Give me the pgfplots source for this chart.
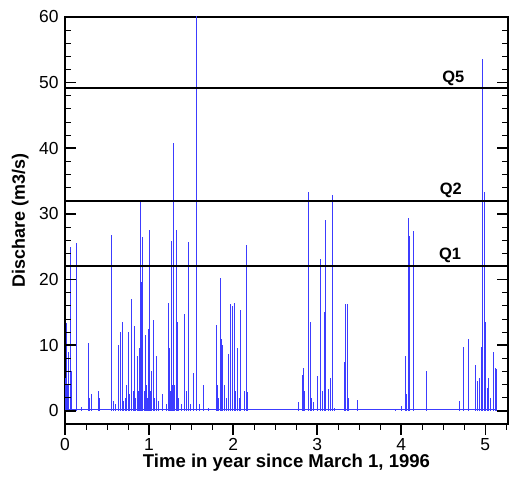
\documentclass[border=0pt]{standalone}
\usepackage{pgfplots}
\pgfplotsset{compat=1.18}
\usepackage{pgfplotstable}
\usepackage{fontspec}
\setmainfont{Liberation Sans}
\definecolor{flow}{RGB}{60,60,255}
\pgfplotstableread{
x y
0.005 5
0.012 13.4
0.020 8
0.030 4
0.045 9
0.060 25
0.075 6
0.140 25.6
0.200 0.6
0.280 10.4
0.295 2
0.310 2.5
0.400 3.1
0.410 2
0.556 26.8
0.570 1.5
0.600 1
0.635 10
0.655 12
0.686 13.5
0.700 1.5
0.720 2
0.735 4
0.754 12
0.770 2.5
0.794 17
0.810 3
0.821 13
0.835 2
0.855 8.3
0.868 3
0.880 9.5
0.890 4
0.901 32
0.912 19.7
0.925 26.5
0.940 3
0.952 11.5
0.965 4
0.978 2
0.990 12.5
1.000 27.5
1.015 3
1.030 6
1.050 13.8
1.065 2
1.090 8.4
1.110 1.5
1.160 2.6
1.200 1
1.230 16.4
1.240 9.5
1.255 3
1.270 25.8
1.282 4
1.294 40.8
1.306 4
1.320 27.5
1.332 13.6
1.350 2
1.380 1
1.417 14.7
1.440 3
1.472 25.7
1.490 1
1.524 5.8
1.558 39.8
1.566 62
1.600 1
1.646 3.9
1.700 0.5
1.806 13.1
1.815 3.9
1.830 2
1.849 20.2
1.862 10.9
1.875 10
1.900 4
1.920 2
1.948 8.6
1.970 16.3
1.990 16
2.012 16.4
2.030 3
2.050 9.5
2.070 2
2.090 15.4
2.130 3
2.155 25.3
2.170 2.8
2.780 1.3
2.820 5.5
2.830 6.6
2.850 3.1
2.897 33.3
2.915 13.6
2.930 2
2.950 1.4
3.004 5.3
3.036 23.2
3.060 3
3.080 15
3.095 29.1
3.130 3.3
3.160 5
3.175 32.9
3.200 0.5
3.325 7.5
3.335 16.3
3.360 16.3
3.370 2
3.480 1.7
3.930 0.3
4.000 0.8
4.050 8.3
4.060 2.5
4.087 29.4
4.100 26.7
4.147 27.4
4.294 6
4.300 3.6
4.690 1.5
4.734 9.8
4.794 10.9
4.800 1
4.885 7
4.910 4.6
4.930 5
4.952 9.7
4.964 53.6
4.988 33.4
5.000 13.5
5.020 3.5
5.040 5
5.060 2
5.090 8.9
5.120 6.5
5.128 6.4
}\flowdata
\begin{document}
\begin{tikzpicture}
\begin{axis}[
  name=ax,
  scale only axis,
  width=443bp, height=407bp,
  xmin=0, xmax=5.27,
  ymin=-2, ymax=60,
  xtick={0,1,2,3,4,5},
  ytick={0,10,20,30,40,50,60},
  minor x tick num=3,
  minor y tick num=4,
  xtick pos=lower,
  ytick pos=both,
  xtick align=outside,
  ytick align=inside,
  major tick length=11bp,
  minor tick length=6bp,
  tick style={draw=none},
  axis line style={line width=1.9pt},
  tick label style={font=\fontsize{17.5}{20}\selectfont},
  y tick label style={xshift=-3bp},
  /pgf/number format/assume math mode=true,
  xlabel={\textbf{Time in year since March 1, 1996}},
  ylabel={\textbf{Dischare (m3/s)}},
  label style={font=\fontsize{18}{20}\selectfont},
  xlabel style={font=\fontsize{18.6}{20}\selectfont, at={(axis description cs:0.5,0)}, anchor=base, yshift=-44bp},
  ylabel style={at={(axis description cs:0,0.5)}, anchor=base, rotate=0, yshift=40bp},
  clip=true,
]
\addplot[flow, line width=0.7pt, no marks] coordinates {(0,0.2) (5.14,0.2)};
\addplot[flow, line width=0.7pt, ycomb, no marks] table[x=x, y=y] {\flowdata};
\addplot[black, line width=1.8pt, no marks] coordinates {(0,49.2) (5.27,49.2)};
\addplot[black, line width=1.8pt, no marks] coordinates {(0,32) (5.27,32)};
\addplot[black, line width=1.8pt, no marks] coordinates {(0,22.1) (5.27,22.1)};
\node[font=\fontsize{16.5}{18}\selectfont\bfseries] at (axis cs:4.62,50.6) {Q5};
\node[font=\fontsize{16.5}{18}\selectfont\bfseries] at (axis cs:4.59,33.6) {Q2};
\node[font=\fontsize{16.5}{18}\selectfont\bfseries] at (axis cs:4.58,23.7) {Q1};
\end{axis}
% axis ticks (y: inside, both sides; x: outside, bottom)
\foreach \v in {0,10,...,60} {
  \draw[black, line width=1.6pt] ([yshift={(\v+2)*6.5645bp}]ax.south west) -- ++(11bp,0);
  \draw[black, line width=1.6pt] ([yshift={(\v+2)*6.5645bp}]ax.south east) -- ++(-11bp,0);
}
\foreach \m in {0,10,...,50} {
  \foreach \k in {2,4,6,8} {
    \draw[black, line width=0.8pt] ([yshift={(\m+\k+2)*6.5645bp}]ax.south west) -- ++(6bp,0);
    \draw[black, line width=0.8pt] ([yshift={(\m+\k+2)*6.5645bp}]ax.south east) -- ++(-6bp,0);
  }
}
\foreach \v in {0,1,...,5} {
  \draw[black, line width=1.6pt] ([xshift={\v*84.061bp}]ax.south west) -- ++(0,-11bp);
}
\foreach \m in {0,1,...,4} {
  \foreach \k in {0.25,0.5,0.75} {
    \draw[black, line width=0.8pt] ([xshift={(\m+\k)*84.061bp}]ax.south west) -- ++(0,-6bp);
  }
}
\draw[black, line width=0.8pt] ([xshift={5.25*84.061bp}]ax.south west) -- ++(0,-6bp);
\pgfresetboundingbox
\path[use as bounding box] ([xshift=-65bp,yshift=-57bp]ax.south west) rectangle ([xshift=1bp,yshift=17bp]ax.north east);
\end{tikzpicture}
\end{document}
